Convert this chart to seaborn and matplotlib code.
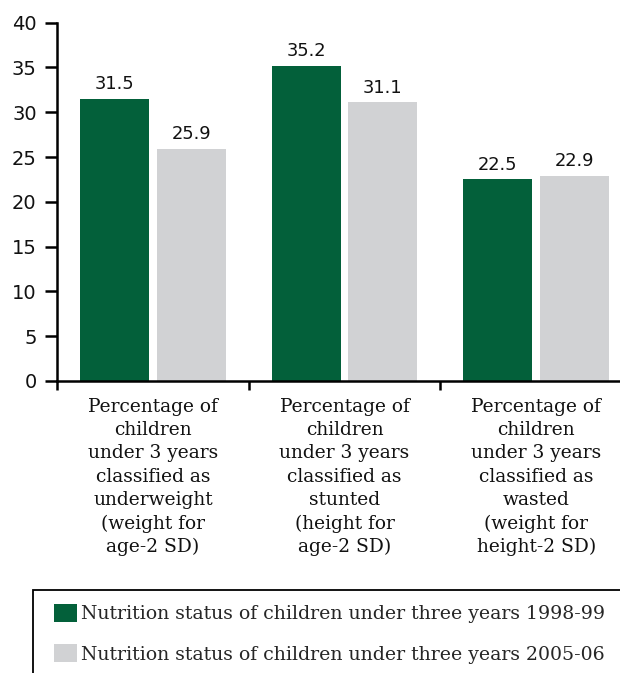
import matplotlib
matplotlib.use("Agg")
import matplotlib.pyplot as plt
from matplotlib.patches import Rectangle
import seaborn as sns
import pandas as pd

categories = [
    "Percentage of\nchildren\nunder 3 years\nclassified as\nunderweight\n(weight for\nage-2 SD)",
    "Percentage of\nchildren\nunder 3 years\nclassified as\nstunted\n(height for\nage-2 SD)",
    "Percentage of\nchildren\nunder 3 years\nclassified as\nwasted\n(weight for\nheight-2 SD)",
]
series_names = [
    "Nutrition status of children under three years 1998-99",
    "Nutrition status of children under three years 2005-06",
]
values_1998 = [31.5, 35.2, 22.5]
values_2005 = [25.9, 31.1, 22.9]
y_ticks = [0, 5, 10, 15, 20, 25, 30, 35, 40]

colors = ["#03603A", "#D1D2D4"]

df = pd.DataFrame({
    "category": categories * 2,
    "series": [series_names[0]] * 3 + [series_names[1]] * 3,
    "value": values_1998 + values_2005,
})

sns.set_style("ticks")
plt.rcParams["font.family"] = ["DejaVu Sans"]

W, H = 620, 673
fig = plt.figure(figsize=(W / 100, H / 100), dpi=100)
ax = fig.add_axes([57 / W, 1 - 381 / H, (632 - 57) / W, (381 - 22.7) / H])

sns.barplot(data=df, x="category", y="value", hue="series",
            hue_order=series_names, palette=colors, width=0.8, gap=0.1,
            saturation=1, linewidth=0, edgecolor="none", ax=ax, legend=True)

handles, labels = ax.get_legend_handles_labels()
ax.get_legend().remove()

for cont in ax.containers:
    ax.bar_label(cont, fmt="%.1f", padding=4, fontsize=12.9, color="#111111")

ax.set_xlim(-0.5, 2.5)
ax.set_ylim(0, 40)
ax.set_yticks(y_ticks)
ax.set_yticklabels([str(t) for t in y_ticks], fontsize=14, color="#111111")
ax.set_xlabel("")
ax.set_ylabel("")

# group separators as major ticks, category text on minor ticks
ax.set_xticks([-0.5, 0.5, 1.5, 2.5])
ax.set_xticklabels([])
ax.set_xticks([0, 1, 2], minor=True)
ax.set_xticklabels(categories, minor=True, family="DejaVu Serif",
                   fontsize=13.4, linespacing=1.38, color="#111111")
ax.tick_params(axis="x", which="minor", bottom=False, length=0, pad=12)
ax.tick_params(axis="x", which="major", bottom=True, direction="out",
               length=6.5, width=1.8, color="black")
ax.tick_params(axis="y", left=True, direction="out", length=8.6, width=1.8,
               color="black", pad=6)

for side in ("top", "right"):
    ax.spines[side].set_visible(False)
for side in ("left", "bottom"):
    ax.spines[side].set_color("black")
    ax.spines[side].set_linewidth(1.8)

# legend box, open towards the lower right
fig.patches.append(Rectangle((33 / W, -0.2), 1.2, 1 - 590 / H + 0.2,
                             transform=fig.transFigure, fill=False,
                             edgecolor="black", linewidth=1.3))
fig.legend(handles, labels, loc="upper left",
           bbox_to_anchor=(50 / W, 1 - 600 / H), frameon=False,
           prop={"family": "DejaVu Serif", "size": 13.6},
           handlelength=1.25, handleheight=1.1, handletextpad=0.2,
           labelspacing=1.1, borderaxespad=0, borderpad=0.2)

fig.savefig("out.png", dpi=100)
